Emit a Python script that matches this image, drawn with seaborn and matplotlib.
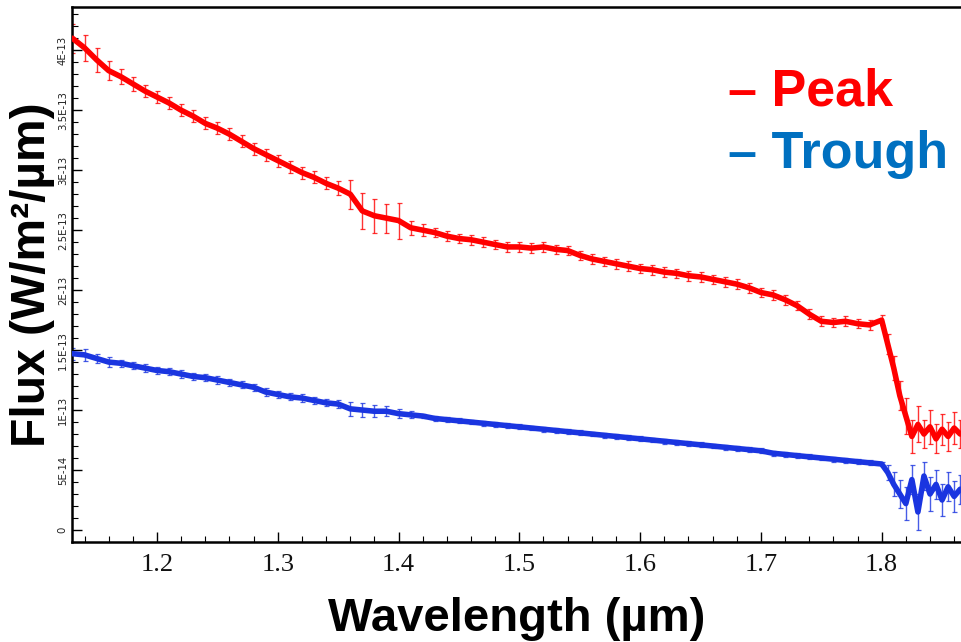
import numpy as np
import pandas as pd
import matplotlib
matplotlib.use("Agg")
import matplotlib.pyplot as plt
import seaborn as sns
from matplotlib.ticker import FixedLocator, FixedFormatter, MultipleLocator

# ---- data (flux in units of 1e-13 W/m^2/um) ----
wavelength = [1.13, 1.14, 1.15, 1.16, 1.17, 1.18, 1.19, 1.20, 1.21, 1.22,
              1.23, 1.24, 1.25, 1.26, 1.27, 1.28, 1.29, 1.30, 1.31, 1.32,
              1.33, 1.34, 1.35, 1.36, 1.37, 1.38, 1.39, 1.40, 1.41, 1.42,
              1.43, 1.44, 1.45, 1.46, 1.47, 1.48, 1.49, 1.50, 1.51, 1.52,
              1.53, 1.54, 1.55, 1.56, 1.57, 1.58, 1.59, 1.60, 1.61, 1.62,
              1.63, 1.64, 1.65, 1.66, 1.67, 1.68, 1.69, 1.70, 1.71, 1.72,
              1.73, 1.74, 1.75, 1.76, 1.77, 1.78, 1.79, 1.80, 1.805, 1.81,
              1.815, 1.82, 1.825, 1.83, 1.835, 1.84, 1.845, 1.85, 1.855, 1.86,
              1.865]

peak_flux = [4.10, 4.02, 3.92, 3.83, 3.78, 3.72, 3.66, 3.61, 3.56, 3.50,
             3.45, 3.39, 3.35, 3.30, 3.24, 3.18, 3.13, 3.08, 3.03, 2.98,
             2.94, 2.89, 2.85, 2.80, 2.66, 2.62, 2.60, 2.58, 2.52, 2.50,
             2.48, 2.45, 2.43, 2.42, 2.40, 2.38, 2.36, 2.36, 2.35, 2.36,
             2.34, 2.33, 2.29, 2.26, 2.24, 2.22, 2.20, 2.18, 2.17, 2.15,
             2.14, 2.12, 2.11, 2.09, 2.07, 2.05, 2.02, 1.98, 1.96, 1.92,
             1.87, 1.80, 1.74, 1.73, 1.74, 1.72, 1.71, 1.75, 1.55, 1.35,
             1.12, 0.95, 0.78, 0.88, 0.80, 0.86, 0.76, 0.84, 0.78, 0.85,
             0.80]

peak_err = [0.12, 0.11, 0.10, 0.08, 0.06, 0.06, 0.05, 0.05, 0.05, 0.05,
            0.05, 0.05, 0.05, 0.05, 0.05, 0.05, 0.05, 0.05, 0.05, 0.05,
            0.05, 0.05, 0.06, 0.12, 0.15, 0.14, 0.12, 0.15, 0.06, 0.05,
            0.04, 0.04, 0.04, 0.04, 0.04, 0.04, 0.04, 0.04, 0.04, 0.04,
            0.04, 0.04, 0.04, 0.04, 0.04, 0.04, 0.04, 0.04, 0.04, 0.04,
            0.04, 0.04, 0.04, 0.04, 0.04, 0.04, 0.04, 0.04, 0.04, 0.04,
            0.04, 0.04, 0.04, 0.04, 0.04, 0.04, 0.04, 0.04, 0.08, 0.10,
            0.12, 0.15, 0.14, 0.15, 0.12, 0.14, 0.12, 0.13, 0.12, 0.13,
            0.12]

trough_flux = [1.47, 1.46, 1.43, 1.40, 1.39, 1.37, 1.35, 1.33, 1.32, 1.30,
               1.28, 1.27, 1.25, 1.23, 1.21, 1.19, 1.15, 1.13, 1.11, 1.10,
               1.08, 1.06, 1.05, 1.01, 1.00, 0.99, 0.99, 0.97, 0.96, 0.95,
               0.93, 0.92, 0.91, 0.90, 0.89, 0.88, 0.87, 0.86, 0.85, 0.84,
               0.83, 0.82, 0.81, 0.80, 0.79, 0.78, 0.77, 0.76, 0.75, 0.74,
               0.73, 0.72, 0.71, 0.70, 0.69, 0.68, 0.67, 0.66, 0.64, 0.63,
               0.62, 0.61, 0.60, 0.59, 0.58, 0.57, 0.56, 0.55, 0.48, 0.38,
               0.30, 0.22, 0.42, 0.15, 0.45, 0.30, 0.38, 0.25, 0.36, 0.28,
               0.34]

trough_err = [0.05, 0.05, 0.04, 0.04, 0.03, 0.03, 0.03, 0.03, 0.03, 0.03,
              0.03, 0.03, 0.03, 0.03, 0.03, 0.03, 0.03, 0.03, 0.03, 0.03,
              0.03, 0.03, 0.03, 0.06, 0.06, 0.05, 0.04, 0.04, 0.03, 0.02,
              0.02, 0.02, 0.02, 0.02, 0.02, 0.02, 0.02, 0.02, 0.02, 0.02,
              0.02, 0.02, 0.02, 0.02, 0.02, 0.02, 0.02, 0.02, 0.02, 0.02,
              0.02, 0.02, 0.02, 0.02, 0.02, 0.02, 0.02, 0.02, 0.02, 0.02,
              0.02, 0.02, 0.02, 0.02, 0.02, 0.02, 0.02, 0.02, 0.06, 0.10,
              0.12, 0.14, 0.12, 0.15, 0.12, 0.14, 0.12, 0.13, 0.12, 0.13,
              0.12]

series_names = ["Peak", "Trough"]
data_colors = {"Peak": "#ff0000", "Trough": "#1a35e0"}
legend_colors = {"Peak": "#ff0000", "Trough": "#0070c0"}

ytick_values = [0, 0.5, 1.0, 1.5, 2.0, 2.5, 3.0, 3.5, 4.0]
ytick_labels = ["0", "5E-14", "1E-13", "1.5E-13", "2E-13", "2.5E-13",
                "3E-13", "3.5E-13", "4E-13"]
xtick_values = [1.2, 1.3, 1.4, 1.5, 1.6, 1.7, 1.8]
xtick_labels = ["1.2", "1.3", "1.4", "1.5", "1.6", "1.7", "1.8"]

df = pd.DataFrame({
    "wavelength": wavelength * 2,
    "flux": peak_flux + trough_flux,
    "err": peak_err + trough_err,
    "series": ["Peak"] * len(wavelength) + ["Trough"] * len(wavelength),
})

sns.set_theme(style="ticks")
plt.rcParams["font.family"] = ["Liberation Sans", "DejaVu Sans"]

fig = plt.figure(figsize=(9.62, 6.42), dpi=100)
ax = fig.add_axes([0.0748, 0.1558, 0.9252, 0.8332])

for name in series_names:
    sub = df[df["series"] == name]
    ax.errorbar(sub["wavelength"], sub["flux"], yerr=sub["err"], fmt="none",
                ecolor=data_colors[name], elinewidth=1.0, capsize=1.8,
                capthick=0.9, alpha=0.8, zorder=2)

sns.lineplot(data=df, x="wavelength", y="flux", hue="series",
             palette=data_colors, linewidth=4.0, legend=False, ax=ax,
             estimator=None, sort=False, zorder=3)

ax.set_xlim(1.1296, 1.8665)
ax.set_ylim(-0.1, 4.36)

ax.xaxis.set_major_locator(FixedLocator(xtick_values))
ax.xaxis.set_major_formatter(FixedFormatter(xtick_labels))
ax.xaxis.set_minor_locator(MultipleLocator(0.02))
ax.yaxis.set_major_locator(FixedLocator(ytick_values))
ax.yaxis.set_major_formatter(FixedFormatter(ytick_labels))
ax.yaxis.set_minor_locator(MultipleLocator(0.1))

ax.tick_params(axis="both", which="major", direction="in", length=7,
               width=1, color="black")
ax.tick_params(axis="both", which="minor", direction="in", length=4,
               width=0.8, color="black")
ax.tick_params(axis="x", which="major", pad=9)
ax.tick_params(axis="y", which="major", pad=3)

for lab in ax.get_xticklabels():
    lab.set_fontfamily(["Liberation Serif", "DejaVu Serif"])
    lab.set_fontsize(19)
    lab.set_color("#111111")
for lab in ax.get_yticklabels():
    lab.set_fontfamily(["DejaVu Sans"])
    lab.set_fontsize(7.3)
    lab.set_rotation(90)
    lab.set_va("center")
    lab.set_color("#222222")

for side in ["left", "bottom", "top"]:
    ax.spines[side].set_visible(True)
    ax.spines[side].set_linewidth(1.8)
    ax.spines[side].set_color("black")
ax.spines["right"].set_visible(False)

ax.set_xlabel("Wavelength (µm)", fontsize=34, fontweight="bold",
              color="black", labelpad=15)
ax.set_ylabel("Flux (W/m²/µm)", fontsize=34.5, fontweight="bold",
              color="black", labelpad=2)

fig.text(728 / 962, 1 - 105 / 642, "– Peak", fontsize=37.5, fontweight="bold",
         color=legend_colors["Peak"], ha="left", va="baseline")
fig.text(728 / 962, 1 - 168 / 642, "– Trough", fontsize=37.5, fontweight="bold",
         color=legend_colors["Trough"], ha="left", va="baseline")

fig.savefig("out.png", dpi=100, facecolor="white")
